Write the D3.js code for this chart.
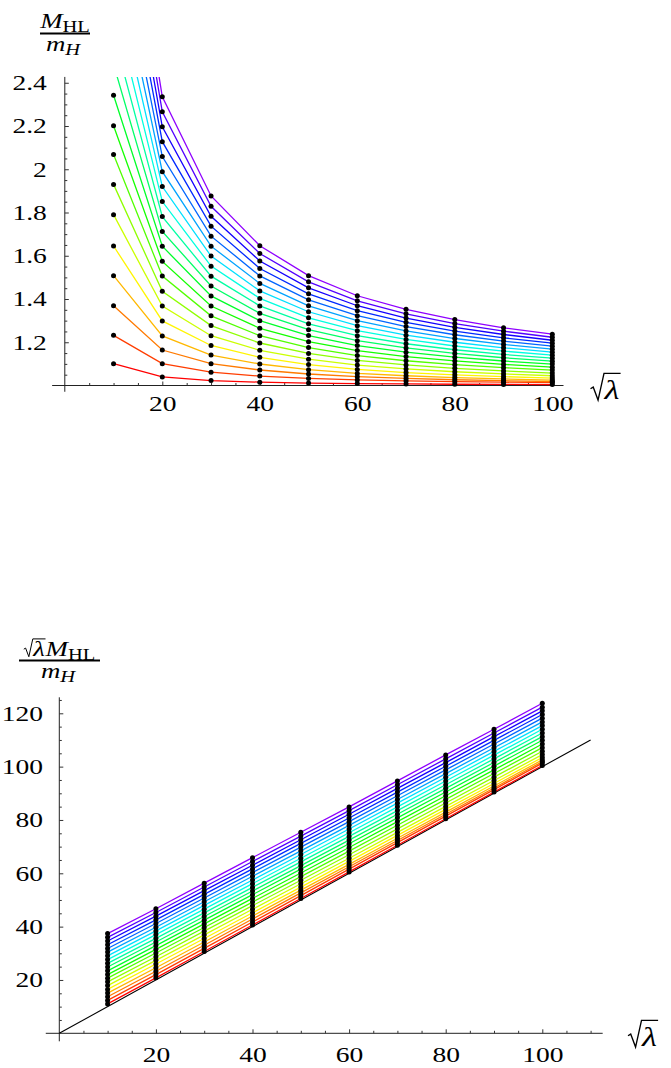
<!DOCTYPE html>
<html><head><meta charset="utf-8">
<script src="https://cdn.jsdelivr.net/npm/d3@7"></script>
<style>body{margin:0;background:#fff}svg{display:block}</style>
</head><body>
<svg id="c" width="671" height="1068"></svg>
<script>
// sqrt(lambda) sample points
const sqrtLambda = [10, 20, 30, 40, 50, 60, 70, 80, 90, 100];
// sqrt(lambda) * M_HL / m_H for each curve (bottom red -> top violet)
const curve01 = [11.01, 20.79, 30.68, 40.62, 50.57, 60.53, 70.50, 80.47, 90.45, 100.43];
const curve02 = [12.32, 22.02, 31.85, 41.74, 51.64, 61.56, 71.49, 81.43, 91.38, 101.33];
const curve03 = [13.69, 23.28, 33.02, 42.87, 52.66, 62.44, 72.28, 82.13, 91.99, 101.85];
const curve04 = [15.08, 24.58, 34.22, 43.98, 53.67, 63.36, 73.15, 82.94, 92.73, 102.52];
const curve05 = [16.45, 25.97, 35.55, 45.22, 54.84, 64.46, 74.20, 83.95, 93.69, 103.44];
const curve06 = [17.90, 27.35, 36.91, 46.51, 56.08, 65.66, 75.37, 85.09, 94.80, 104.52];
const curve07 = [19.30, 28.71, 38.31, 47.86, 57.41, 66.96, 76.66, 86.36, 96.06, 105.76];
const curve08 = [20.68, 30.12, 39.66, 49.21, 58.76, 68.31, 78.01, 87.71, 97.41, 107.11];
const curve09 = [22.01, 31.48, 41.03, 50.58, 60.13, 69.68, 79.38, 89.08, 98.78, 108.48];
const curve10 = [23.42, 32.88, 42.43, 51.99, 61.54, 71.09, 80.79, 90.49, 100.19, 109.89];
const curve11 = [24.85, 34.25, 43.80, 53.35, 62.90, 72.45, 82.15, 91.85, 101.55, 111.25];
const curve12 = [26.25, 35.62, 45.17, 54.72, 64.27, 73.82, 83.52, 93.22, 102.92, 112.62];
const curve13 = [27.65, 37.01, 46.56, 56.11, 65.66, 75.21, 84.91, 94.61, 104.31, 114.01];
const curve14 = [29.05, 38.40, 47.95, 57.50, 67.05, 76.60, 86.30, 96.00, 105.70, 115.40];
const curve15 = [30.45, 39.78, 49.33, 58.88, 68.43, 77.98, 87.68, 97.38, 107.08, 116.78];
const curve16 = [31.80, 41.17, 50.72, 60.27, 69.82, 79.37, 89.07, 98.77, 108.47, 118.17];
const curve17 = [33.20, 42.55, 52.10, 61.65, 71.20, 80.75, 90.45, 100.15, 109.85, 119.55];
const curve18 = [34.60, 43.93, 53.48, 63.03, 72.58, 82.13, 91.83, 101.53, 111.23, 120.93];
const curve19 = [36.00, 45.31, 54.86, 64.41, 73.96, 83.51, 93.21, 102.91, 112.61, 122.31];
const curve20 = [37.40, 46.70, 56.30, 65.86, 75.40, 84.90, 94.65, 104.40, 114.02, 123.75];
const curves = [curve01, curve02, curve03, curve04, curve05, curve06, curve07, curve08, curve09, curve10,
                curve11, curve12, curve13, curve14, curve15, curve16, curve17, curve18, curve19, curve20];

// tick labels
const topXTicks = [20, 40, 60, 80, 100];
const topXLabels = ["20", "40", "60", "80", "100"];
const topYTicks = [1.2, 1.4, 1.6, 1.8, 2, 2.2, 2.4];
const topYLabels = ["1.2", "1.4", "1.6", "1.8", "2", "2.2", "2.4"];
const botXTicks = [20, 40, 60, 80, 100];
const botXLabels = ["20", "40", "60", "80", "100"];
const botYTicks = [20, 40, 60, 80, 100, 120];
const botYLabels = ["20", "40", "60", "80", "100", "120"];
const referenceLine = [[0, 0], [110, 110]];

const SX = 1.28;
const FONT = "'Liberation Serif','DejaVu Serif',serif";
const svg = d3.select("#c");
const hueOf = j => d3.hsl(360 * 0.8 * j / curves.length, 1, 0.5).toString();

function stretchTexts(g) {
  g.attr("font-family", FONT).attr("font-size", 21.5);
  g.selectAll("text").each(function () {
    const t = d3.select(this);
    const x = +t.attr("x") || 0, y = +t.attr("y") || 0;
    t.attr("x", 0).attr("y", 0).attr("fill", "#000")
      .attr("transform", `translate(${x},${y}) scale(${SX},1)`);
  });
}

function richText(parent, x, y, pieces, anchor) {
  const g = parent.append("g").attr("font-family", FONT);
  let cx = 0;
  pieces.forEach(p => {
    if (p.sqrt) {
      const s = p.sqrt;
      const rw = 0.5 * s;
      const x0 = cx;
      const txt = g.append("text").attr("font-size", p.size).attr("font-style", p.italic ? "italic" : "normal")
        .attr("transform", `translate(${cx + rw + 0.02 * s},${p.dy || 0}) scale(${SX},1)`).text(p.t);
      const w = txt.node().getComputedTextLength() * SX;
      const xe = cx + rw + 0.02 * s + w + 0.04 * s;
      g.append("path").attr("fill", "none").attr("stroke", "#000").attr("stroke-width", Math.max(1, s * 0.05))
        .attr("stroke-linejoin", "miter")
        .attr("d", `M${x0},${-0.38 * s} L${x0 + 0.1 * s},${-0.44 * s} L${x0 + 0.28 * s},${0.04 * s} L${x0 + rw},${-0.95 * s} H${xe}`);
      cx = xe + (p.gap || 0);
    } else {
      const txt = g.append("text").attr("font-size", p.size).attr("font-style", p.italic ? "italic" : "normal")
        .attr("transform", `translate(${cx},${p.dy || 0}) scale(${SX},1)`).text(p.t);
      cx += txt.node().getComputedTextLength() * SX + (p.gap || 0);
    }
  });
  const shift = anchor === "middle" ? -cx / 2 : anchor === "end" ? -cx : 0;
  g.attr("transform", `translate(${x + shift},${y})`);
  return g;
}

function drawPanel(cfg) {
  const { x, y, valueOf, xMin, xMax, yMin, yMax, xTicks, xLabels, yTicks, yLabels, xMinor, yMinor, clipTop, xPad, yPad, id } = cfg;
  const g = svg.append("g");
  g.append("line").attr("x1", x(xMin)).attr("x2", x(xMax)).attr("y1", y(cfg.yOrigin)).attr("y2", y(cfg.yOrigin))
    .attr("stroke", "#222").attr("stroke-width", 1);
  g.append("line").attr("x1", x(0)).attr("x2", x(0)).attr("y1", y(yMin)).attr("y2", y(yMax))
    .attr("stroke", "#222").attr("stroke-width", 1);
  const xa = g.append("g").attr("transform", `translate(0,${y(cfg.yOrigin)})`)
    .call(d3.axisBottom(x).tickValues(xTicks).tickSize(-4).tickPadding(xPad).tickFormat((d, i) => xLabels[i]))
    .call(s => s.select(".domain").remove());
  stretchTexts(xa);
  g.append("g").attr("transform", `translate(0,${y(cfg.yOrigin)})`)
    .call(d3.axisBottom(x).tickValues(xMinor).tickSize(-2.5).tickFormat(""))
    .call(s => s.select(".domain").remove());
  const ya = g.append("g").attr("transform", `translate(${x(0)},0)`)
    .call(d3.axisLeft(y).tickValues(yTicks).tickSize(-4).tickPadding(yPad).tickFormat((d, i) => yLabels[i]))
    .call(s => s.select(".domain").remove());
  stretchTexts(ya);
  g.append("g").attr("transform", `translate(${x(0)},0)`)
    .call(d3.axisLeft(y).tickValues(yMinor).tickSize(-2.5).tickFormat(""))
    .call(s => s.select(".domain").remove());
  g.selectAll(".tick line").attr("stroke", "#333");

  svg.append("clipPath").attr("id", id).append("rect")
    .attr("x", 0).attr("y", clipTop).attr("width", 671).attr("height", 1068);
  const plot = svg.append("g").attr("clip-path", `url(#${id})`);
  if (cfg.refLine) {
    plot.append("path").attr("d", d3.line().x(d => x(d[0])).y(d => y(d[1]))(referenceLine))
      .attr("fill", "none").attr("stroke", "#000").attr("stroke-width", 1.1);
  }
  const line = d3.line().x(d => x(d.x)).y(d => y(d.v));
  curves.forEach((c, j) => {
    const pts = sqrtLambda.map((s, i) => ({ x: s, v: valueOf(c[i], s) }));
    plot.append("path").attr("d", line(pts)).attr("fill", "none")
      .attr("stroke", hueOf(j)).attr("stroke-width", 1.3);
  });
  curves.forEach((c, j) => {
    const pts = sqrtLambda.map((s, i) => ({ x: s, v: valueOf(c[i], s) }));
    plot.selectAll(null).data(pts).enter().append("circle")
      .attr("cx", d => x(d.x)).attr("cy", d => y(d.v)).attr("r", 2.5).attr("fill", "#000");
  });
}

// ---- top panel: M_HL / m_H ----
const xTop = d3.scaleLinear().domain([0, 100]).range([64.8, 552.3]);
const yTop = d3.scaleLinear().domain([1, 2.4]).range([385.5, 82.75]);
drawPanel({
  id: "clipTop", x: xTop, y: yTop, valueOf: (v, s) => v / s, yOrigin: 1,
  xMin: -2.6, xMax: 102.3, yMin: 0.971, yMax: 2.427,
  xTicks: topXTicks, xLabels: topXLabels, yTicks: topYTicks, yLabels: topYLabels,
  xMinor: d3.range(5, 101, 5).filter(v => v % 20 !== 0),
  yMinor: d3.range(21, 49).map(i => i * 0.05).filter(v => Math.round(v * 100) % 20 !== 0),
  clipTop: yTop(2.427), xPad: 10.5, yPad: 18
});

// ---- bottom panel: sqrt(lambda) M_HL / m_H ----
const xBot = d3.scaleLinear().domain([0, 100]).range([59.3, 542.3]);
const yBot = d3.scaleLinear().domain([0, 120]).range([1033.3, 713.3]);
drawPanel({
  id: "clipBot", x: xBot, y: yBot, valueOf: (v) => v, yOrigin: 0, refLine: true,
  xMin: -2.8, xMax: 112.5, yMin: -3, yMax: 126,
  xTicks: botXTicks, xLabels: botXLabels, yTicks: botYTicks, yLabels: botYLabels,
  xMinor: d3.range(5, 111, 5).filter(v => v % 20 !== 0),
  yMinor: d3.range(5, 126, 5).filter(v => v % 20 !== 0),
  clipTop: 0, xPad: 13.5, yPad: 16.3
});

// ---- axis labels ----
richText(svg, 65, 28, [{ t: "M", size: 21, italic: true }, { t: "HL", size: 16, dy: 4 }], "middle");
svg.append("line").attr("x1", 40).attr("x2", 90).attr("y1", 33.5).attr("y2", 33.5).attr("stroke", "#000").attr("stroke-width", 1.8);
richText(svg, 63, 51, [{ t: "m", size: 21, italic: true }, { t: "H", size: 16, italic: true, dy: 4 }], "middle");
richText(svg, 590.5, 399, [{ t: "λ", size: 27, italic: true, sqrt: 27 }], "start");

richText(svg, 59.5, 656, [{ t: "λ", size: 21, italic: true, sqrt: 18 }, { t: "M", size: 21, italic: true }, { t: "HL", size: 16, dy: 4 }], "middle");
svg.append("line").attr("x1", 19).attr("x2", 100).attr("y1", 660.5).attr("y2", 660.5).attr("stroke", "#000").attr("stroke-width", 1.8);
richText(svg, 58, 678, [{ t: "m", size: 21, italic: true }, { t: "H", size: 16, italic: true, dy: 4 }], "middle");
richText(svg, 628, 1046, [{ t: "λ", size: 27, italic: true, sqrt: 27 }], "start");
</script></body></html>
